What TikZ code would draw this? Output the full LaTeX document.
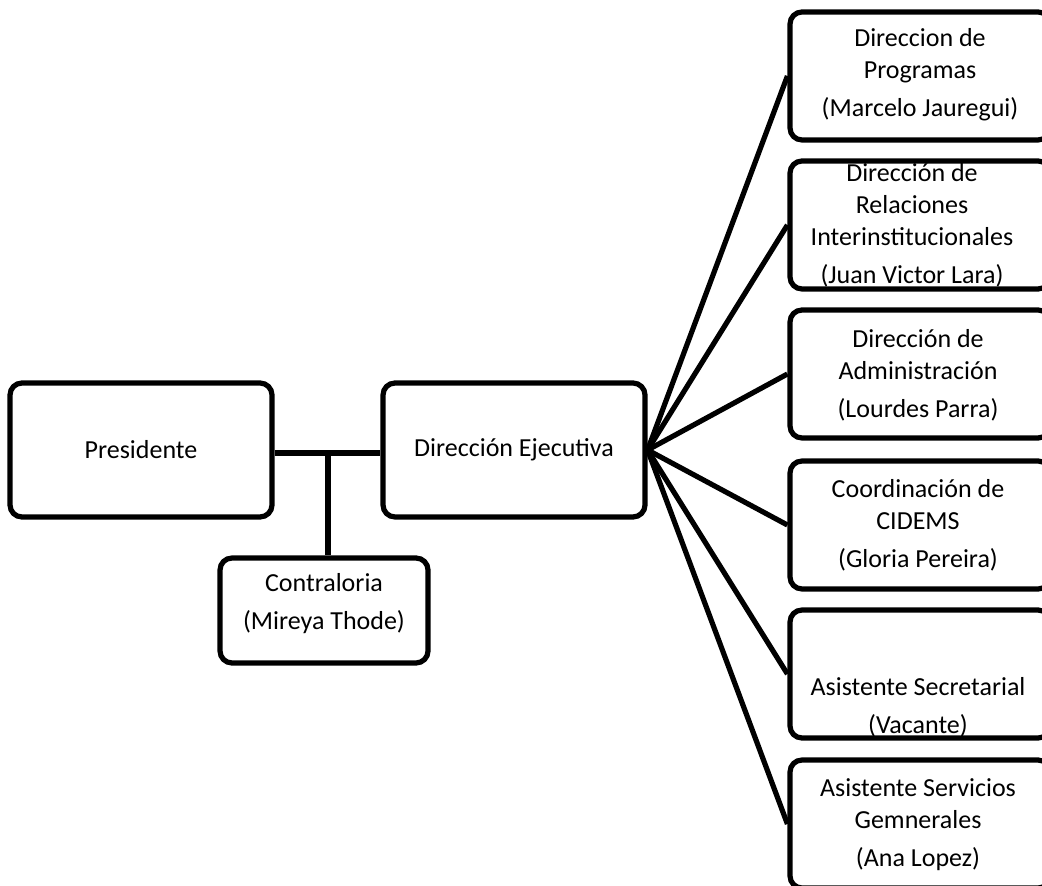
\documentclass[tikz,border=0pt]{standalone}
\usepackage{fontspec}
\setmainfont{Carlito}
\begin{document}
\begin{tikzpicture}[x=0.5pt,y=-0.5pt,
  box/.style={draw=black,line width=2.6pt,rounded corners=6pt,fill=white,inner sep=0pt},
  lbl/.style={align=center,font=\fontsize{13}{16}\selectfont,inner sep=0pt},
  conn/.style={draw=black,line width=2.6pt}]
\clip (0,0) rectangle (1042,886);
\fill[white] (0,0) rectangle (1042,886);
% boxes
\node[box,minimum width=131pt,minimum height=67pt] (P) at (141,450) {};
\node[box,minimum width=131pt,minimum height=67pt] (DE) at (514,450) {};
\node[box,minimum width=104pt,minimum height=52.5pt] (C) at (324,610.5) {};
\node[box,minimum width=130pt,minimum height=64pt] (R1) at (920,76) {};
\node[box,minimum width=130pt,minimum height=64pt] (R2) at (920,225) {};
\node[box,minimum width=130pt,minimum height=64pt] (R3) at (920,374) {};
\node[box,minimum width=130pt,minimum height=64pt] (R4) at (920,525) {};
\node[box,minimum width=130pt,minimum height=64pt] (R5) at (920,674) {};
\node[box,minimum width=130pt,minimum height=64pt] (R6) at (920,824) {};
% connectors
\coordinate (J) at (328,453);
\draw[conn] (P.east |- J) -- (DE.west |- J);
\draw[conn] (J) -- (J |- C.north);
\foreach \r in {R1,R2,R3,R4,R5,R6}{
  \draw[conn] (DE.east) -- (\r.west);
}
% texts
\node[lbl] (tP) at (141,450) {Presidente};
\node[lbl] (tDE) at (514,450) {Dirección Ejecutiva};
\node[lbl] (tC) at (324,604) {Contraloria\\[3pt](Mireya Thode)};
\node[lbl] (t1) at (920,75) {Direccion de\\Programas\\[3pt](Marcelo Jauregui)};
\node[lbl] (t2) at (912,225.5) {Dirección de\\Relaciones\\Interinstitucionales\\[3pt](Juan Victor Lara)};
\node[lbl] (t3) at (918,375) {Dirección de\\Administración\\[3pt](Lourdes Parra)};
\node[lbl] (t4) at (918,525) {Coordinación de\\CIDEMS\\[3pt](Gloria Pereira)};
\node[lbl] (t5) at (918,707) {Asistente Secretarial\\[3pt](Vacante)};
\node[lbl] (t6) at (918,825) {Asistente Servicios\\Gemnerales\\[3pt](Ana Lopez)};
\end{tikzpicture}
\end{document}
